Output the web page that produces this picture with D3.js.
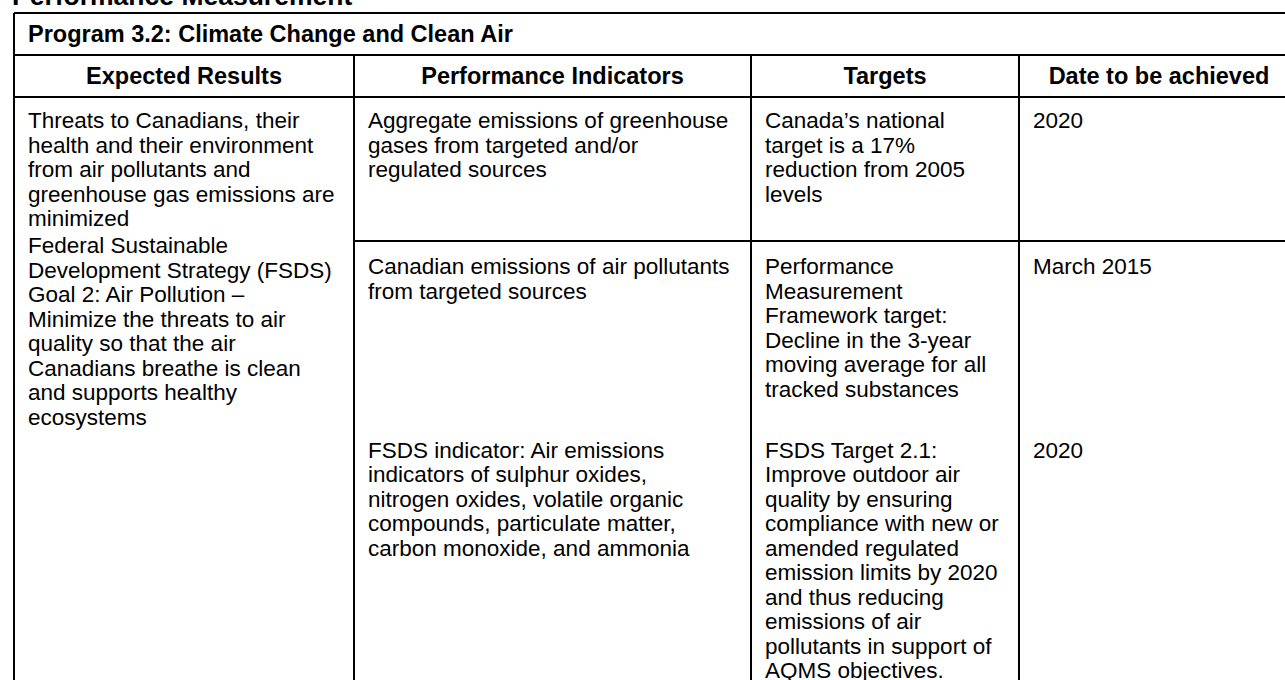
<!DOCTYPE html>
<html lang="en">
<head>
    <meta charset="UTF-8">
    <title>Program 3.2: Climate Change and Clean Air</title>
    <script src="https://d3js.org/d3.v7.min.js"></script>
    <style>
        body {
            margin: 0;
            background: #fff;
            overflow: hidden;
            font-family: "Liberation Sans", Arial, sans-serif;
        }
        .rule {
            stroke: #000;
            stroke-width: 2px;
            shape-rendering: crispEdges;
        }
        .cell {
            font-size: 22.5px;
            fill: #000;
        }
        .bold {
            font-weight: bold;
            font-size: 23.5px;
        }
    </style>
</head>
<body>
    <svg id="table" width="1285" height="680"></svg>
    <script>
        // Text content of the table
        const pageTitle = "Performance Measurement";
        const programTitle = "Program 3.2: Climate Change and Clean Air";
        const headers = ["Expected Results", "Performance Indicators", "Targets", "Date to be achieved"];

        const expectedResults = [
            ["Threats to Canadians, their", "health and their environment", "from air pollutants and",
             "greenhouse gas emissions are", "minimized"],
            ["Federal Sustainable", "Development Strategy (FSDS)", "Goal 2: Air Pollution \u2013",
             "Minimize the threats to air", "quality so that the air", "Canadians breathe is clean",
             "and supports healthy", "ecosystems"]
        ];
        const indicators = [
            ["Aggregate emissions of greenhouse", "gases from targeted and/or", "regulated sources"],
            ["Canadian emissions of air pollutants", "from targeted sources"],
            ["FSDS indicator:  Air emissions", "indicators of sulphur oxides,", "nitrogen oxides, volatile organic",
             "compounds, particulate matter,", "carbon monoxide, and ammonia"]
        ];
        const targets = [
            ["Canada\u2019s national", "target is a 17%", "reduction from 2005", "levels"],
            ["Performance", "Measurement", "Framework target:", "Decline in the 3-year",
             "moving average for all", "tracked substances"],
            ["FSDS Target 2.1:", "Improve outdoor air", "quality by ensuring", "compliance with new or",
             "amended regulated", "emission limits by 2020", "and thus reducing", "emissions of air",
             "pollutants in support of", "AQMS objectives."]
        ];
        const dates = [["2020"], ["March 2015"], ["2020"]];

        // Layout
        const colEdges = [14, 354, 751, 1019, 1299];
        const rowLines = { top: 13, program: 55, header: 97, split: 241, bottom: 760 };
        const lineH = 24.5;
        // first baseline of each paragraph block: row 1, row 2, FSDS block
        const blockStart = [128, 274, 457.5];
        const col1Second = 253; // second paragraph of the merged first column
        const padX = 14;

        const svg = d3.select("#table");
        const lineY = d3.scaleLinear().domain([0, 1]).range([0, lineH]);

        // paragraphs: [column, first baseline, lines]
        const paragraphs = [
            [0, blockStart[0], expectedResults[0]],
            [0, col1Second, expectedResults[1]],
            ...indicators.map((p, i) => [1, blockStart[i], p]),
            ...targets.map((p, i) => [2, blockStart[i], p]),
            ...dates.map((p, i) => [3, blockStart[i], p])
        ];

        // page heading (cut at the top edge)
        svg.append("text")
            .attr("class", "cell bold")
            .attr("x", 12)
            .attr("y", 4.5)
            .style("font-size", "26.5px")
            .text(pageTitle);

        // grid rules
        const rules = [
            [colEdges[0], rowLines.top, colEdges[4], rowLines.top],
            [colEdges[0], rowLines.program, colEdges[4], rowLines.program],
            [colEdges[0], rowLines.header, colEdges[4], rowLines.header],
            [colEdges[1], rowLines.split, colEdges[4], rowLines.split],
            [colEdges[0], rowLines.top, colEdges[0], rowLines.bottom],
            [colEdges[4], rowLines.top, colEdges[4], rowLines.bottom],
            ...[1, 2, 3].map(i => [colEdges[i], rowLines.program, colEdges[i], rowLines.bottom])
        ];
        svg.selectAll(".rule")
            .data(rules)
            .enter()
            .append("line")
            .attr("class", "rule")
            .attr("x1", d => d[0])
            .attr("y1", d => d[1])
            .attr("x2", d => d[2])
            .attr("y2", d => d[3]);

        // program title row
        svg.append("text")
            .attr("class", "cell bold")
            .attr("x", colEdges[0] + padX)
            .attr("y", (rowLines.top + rowLines.program) / 2)
            .attr("dominant-baseline", "central")
            .text(programTitle);

        // header row
        svg.selectAll(".header")
            .data(headers)
            .enter()
            .append("text")
            .attr("class", "cell bold header")
            .attr("x", (d, i) => (colEdges[i] + colEdges[i + 1]) / 2)
            .attr("y", (rowLines.program + rowLines.header) / 2)
            .attr("text-anchor", "middle")
            .attr("dominant-baseline", "central")
            .text(d => d);

        // body paragraphs
        svg.selectAll(".para")
            .data(paragraphs)
            .enter()
            .append("text")
            .attr("class", "cell para")
            .each(function ([col, y0, lines]) {
                d3.select(this).selectAll("tspan")
                    .data(lines)
                    .enter()
                    .append("tspan")
                    .attr("x", colEdges[col] + padX)
                    .attr("y", (d, i) => y0 + lineY(i))
                    .text(d => d);
            });
    </script>
</body>
</html>
